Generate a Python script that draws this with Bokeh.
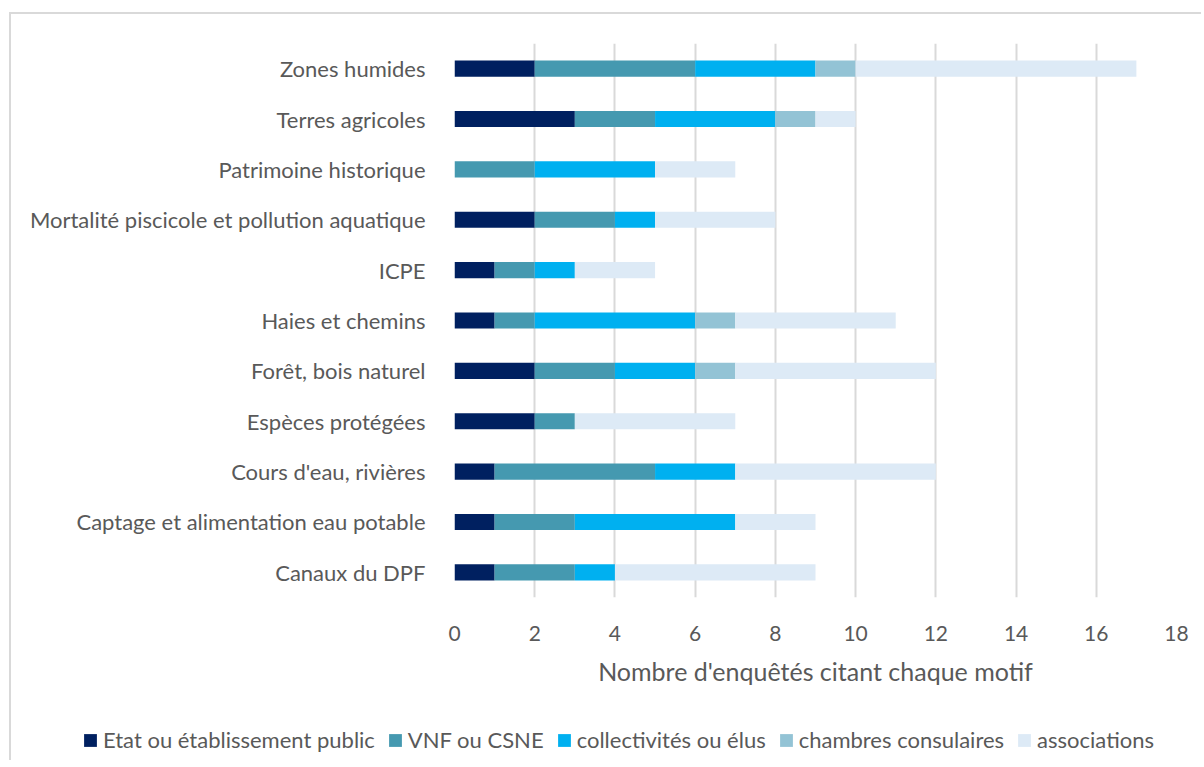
from bokeh.plotting import figure
from bokeh.layouts import column
from bokeh.models import ColumnDataSource, FactorRange, Legend, LegendItem, FixedTicker, Range1d
from bokeh.embed import file_html
from bokeh.resources import INLINE

categories = ["Canaux du DPF", "Captage et alimentation eau potable", "Cours d'eau, rivières",
              "Espèces protégées", "Forêt, bois naturel", "Haies et chemins", "ICPE",
              "Mortalité piscicole et pollution aquatique", "Patrimoine historique",
              "Terres agricoles", "Zones humides"]
etat = [1, 1, 1, 2, 2, 1, 1, 2, 0, 3, 2]
vnf = [2, 2, 4, 1, 2, 1, 1, 2, 2, 2, 4]
collectivites = [1, 4, 2, 0, 2, 4, 1, 1, 3, 3, 3]
chambres = [0, 0, 0, 0, 1, 1, 0, 0, 0, 1, 1]
associations = [5, 2, 5, 4, 5, 4, 2, 3, 2, 1, 7]
series_names = ["Etat ou établissement public", "VNF ou CSNE", "collectivités ou élus",
                "chambres consulaires", "associations"]
x_ticks = [0, 2, 4, 6, 8, 10, 12, 14, 16, 18]

colors = ["#002060", "#4599B0", "#00B0F0", "#93C3D5", "#DDEAF6"]
keys = ["etat", "vnf", "coll", "ch", "assoc"]
FONT = "Lato"
TXT = "#595959"

source = ColumnDataSource(dict(cat=categories, etat=etat, vnf=vnf, coll=collectivites,
                               ch=chambres, assoc=associations))

p = figure(width=1190, height=706, y_range=FactorRange(factors=categories, range_padding=0),
           x_range=(0, 18), output_backend="svg", toolbar_location=None,
           min_border_left=443, min_border_right=25, min_border_top=29, min_border_bottom=123)
p.frame_align = False

renderers = p.hbar_stack(keys, y="cat", height=0.32, color=colors, source=source, line_width=0)

p.outline_line_color = None
p.background_fill_color = "white"
p.border_fill_color = "white"

p.ygrid.grid_line_color = None
p.xgrid.grid_line_color = "#D9D9D9"
p.xgrid.grid_line_width = 2
p.xgrid.ticker = FixedTicker(ticks=x_ticks)

p.xaxis.ticker = FixedTicker(ticks=x_ticks)
p.xaxis.axis_line_color = None
p.xaxis.major_tick_line_color = None
p.xaxis.minor_tick_line_color = None
p.xaxis.major_label_text_font = FONT
p.xaxis.major_label_text_font_size = "21px"
p.xaxis.major_label_text_color = TXT
p.xaxis.major_label_standoff = 22
p.xaxis.axis_label = "Nombre d'enquêtés citant chaque motif"
p.xaxis.axis_label_text_font = FONT
p.xaxis.axis_label_text_font_size = "25px"
p.xaxis.axis_label_text_font_style = "normal"
p.xaxis.axis_label_text_color = TXT
p.xaxis.axis_label_standoff = 12

p.yaxis.axis_line_color = None
p.yaxis.major_tick_line_color = None
p.yaxis.minor_tick_line_color = None
p.yaxis.major_label_text_font = FONT
p.yaxis.major_label_text_font_size = "22px"
p.yaxis.major_label_text_color = TXT
p.yaxis.major_label_standoff = 23

# legend strip below the chart
lg = figure(width=1190, height=40, x_range=Range1d(0, 1), y_range=Range1d(0, 1),
            output_backend="svg", toolbar_location=None, min_border=0,
            min_border_left=0, min_border_right=0, min_border_top=0, min_border_bottom=0)
lg.frame_align = False
lg.axis.visible = False
lg.grid.visible = False
lg.outline_line_color = None
lg.border_fill_color = "white"
legend_src = ColumnDataSource(dict(y=[-5], right=[1]))  # outside view: only feeds legend swatches
dummies = [lg.hbar(y="y", right="right", height=0.5, color=c, line_width=0, source=legend_src)
           for c in colors]

items = [LegendItem(label=n, renderers=[r]) for n, r in zip(series_names, dummies)]
legend = Legend(items=items, orientation="horizontal", location=(71, 7),
                glyph_width=16, glyph_height=16, label_text_font=FONT,
                label_text_font_size="22px", label_text_color=TXT, spacing=12,
                padding=0, margin=0, label_standoff=5, border_line_color=None,
                background_fill_alpha=0)
lg.add_layout(legend, "center")

layout = column(p, lg, spacing=0)
layout.styles = {"border-left": "2px solid #D9D9D9", "border-top": "2px solid #D9D9D9",
                 "margin-top": "12px", "margin-left": "9px"}

open("out.html", "w").write(file_html(layout, INLINE))
